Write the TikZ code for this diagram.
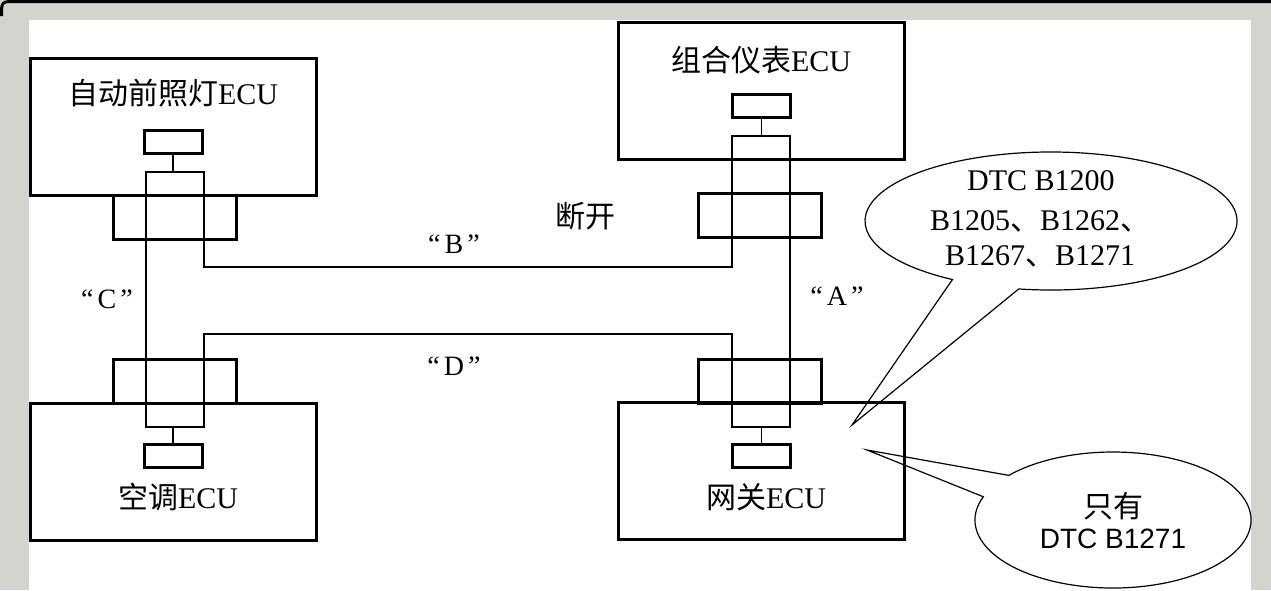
\documentclass[tikz,border=0pt]{standalone}
\usepackage{fontspec}
\setmainfont{Liberation Serif}
\newfontfamily\cjk{Noto Sans CJK SC}
\newfontfamily\arialf{Liberation Sans}
\usetikzlibrary{calc}
\definecolor{framegray}{RGB}{212,212,206}
\newcommand{\qt}[1]{“\kern4pt#1\kern4pt”}
\begin{document}
\begin{tikzpicture}[x=1pt,y=-1pt,
  ecubox/.style={draw,line width=3pt,inner sep=0pt,minimum width=286pt,minimum height=137pt},
  sbox/.style={draw,line width=3pt,inner sep=0pt,minimum width=58pt,minimum height=23pt},
  cblock/.style={draw,line width=3pt,inner sep=0pt,minimum width=123pt,minimum height=44pt},
  wire/.style={line width=1.4pt},
  lbl/.style={inner sep=0pt,anchor=base,font=\fontsize{30}{34}\selectfont},
  qlbl/.style={inner sep=0pt,anchor=base,font=\fontsize{28}{32}\selectfont},
  ctext/.style={inner sep=0pt,anchor=base west,font=\fontsize{30}{34}\selectfont},
  stext/.style={inner sep=0pt,anchor=base,font=\arialf\fontsize{28}{32}\selectfont},
  callout/.style={line width=1.2pt,line join=miter}]
\useasboundingbox (0,0) rectangle (1271,590);
% frame
\fill[framegray] (0,0) rectangle (1271,590);
\fill[white] (29,20) rectangle (1251,590);
\draw[line width=3pt] (1.5,16) .. controls (1.5,1.5) .. (16,1.5) -- (1271,1.5);

% ECU boxes
\node[ecubox] (ecu1) at (173,127) {};
\node[ecubox] (ecu2) at (761.5,91) {};
\node[ecubox] (ecu3) at (173,471.5) {};
\node[ecubox] (ecu4) at (761.5,471) {};

% box labels
\node[lbl] (t1) at (173,104) {{\cjk 自动前照灯}ECU};
\node[lbl] (t2) at (761,71) {{\cjk 组合仪表}ECU};
\node[lbl] (t3) at (178,508) {{\cjk 空调}ECU};
\node[lbl] (t4) at (766,508) {{\cjk 网关}ECU};

% small connector boxes
\node[sbox] (sb1) at (173,141.5) {};
\node[sbox] (sb2) at (761.5,105.5) {};
\node[sbox] (sb3) at (173,456) {};
\node[sbox] (sb4) at (761.5,456) {};

% connector blocks
\node[cblock] (cb1) at (174.5,217.5) {};
\node[cblock] (cb2) at (760,215.5) {};
\node[cblock] (cb3) at (174.5,381) {};
\node[cblock] (cb4) at (760,381) {};

% wire loop
\coordinate (w1) at (146,172);
\coordinate (w2) at (204,172);
\coordinate (w3) at (204,267);
\coordinate (w4) at (732,267);
\coordinate (w5) at (732,136);
\coordinate (w6) at (790,136);
\coordinate (w7) at (790,427);
\coordinate (w8) at (732,427);
\coordinate (w9) at (732,334);
\coordinate (w10) at (204,334);
\coordinate (w11) at (204,427);
\coordinate (w12) at (146,427);
\draw[wire] (w1) -- (w2) -- (w3) -- (w4) -- (w5) -- (w6) -- (w7) -- (w8)
  -- (w9) -- (w10) -- (w11) -- (w12) -- cycle;
\draw[wire] (sb1.south) -- (sb1.south |- w1);
\draw[wire] (sb2.south) -- (sb2.south |- w5);
\draw[wire] (sb3.north) -- (sb3.north |- w12);
\draw[wire] (sb4.north) -- (sb4.north |- w8);

% wire labels
\node[qlbl] (lb) at (454,253) {\qt{B}};
\node[qlbl] (ld) at (454,375) {\qt{D}};
\node[qlbl] (lc) at (107,308) {\qt{C}};
\node[qlbl] (la) at (837,305) {\qt{A}};
\node[lbl] (lk) at (585,227) {\cjk 断开};

% callout 1
\coordinate (co1) at (1051,221);
\coordinate (tip1) at (852,425);
\draw[callout] ($(co1)+(260:186pt and 69pt)$)
  arc[start angle=260,end angle=598,x radius=186pt,y radius=69pt] -- (tip1) -- cycle;
\node[ctext] (c1a) at (967,190) {DTC B1200};
\node[ctext] (c1b) at (930,230) {B1205{\cjk 、}B1262{\cjk 、}};
\node[ctext] (c1c) at (945,265) {B1267{\cjk 、}B1271};

% callout 2
\coordinate (co2) at (1113,520);
\coordinate (tip2) at (867,450);
\draw[callout] ($(co2)+(160:138pt and 68pt)$)
  arc[start angle=160,end angle=499,x radius=138pt,y radius=68pt] -- (tip2) -- cycle;
\node[lbl] (c2a) at (1113,517) {\cjk 只有};
\node[stext] (c2b) at (1113,548) {DTC B1271};
\end{tikzpicture}
\end{document}
